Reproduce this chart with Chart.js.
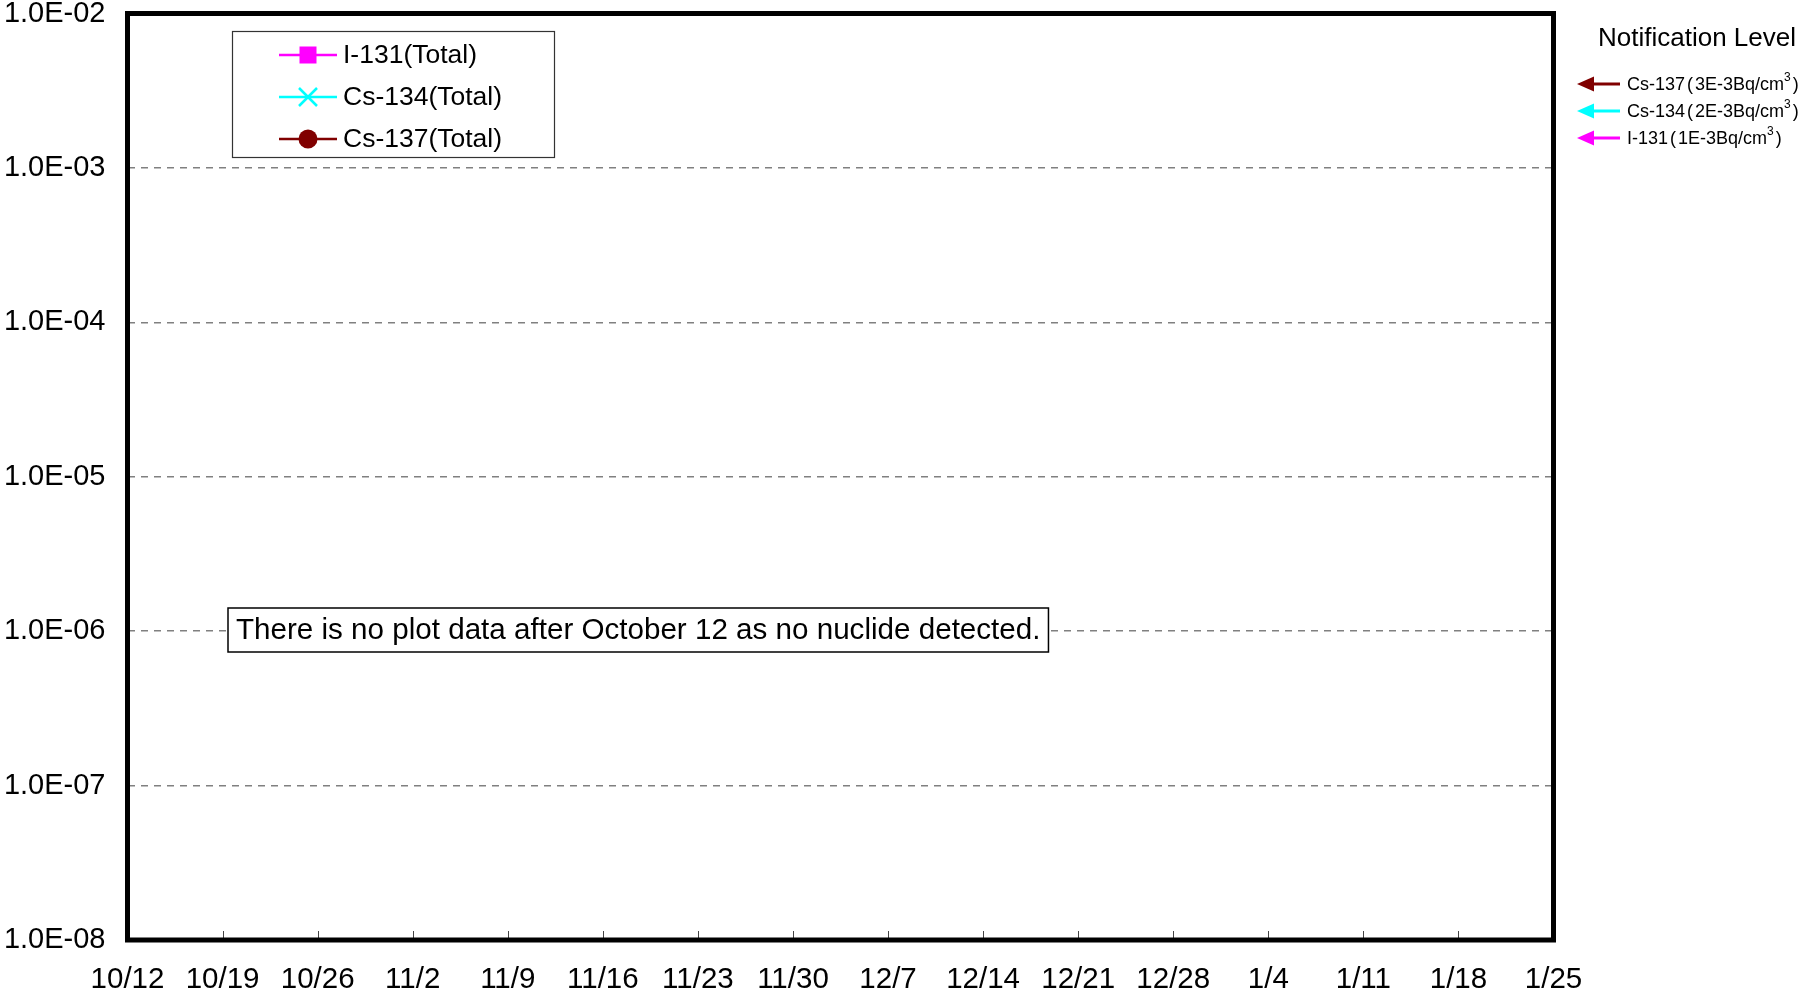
<!DOCTYPE html>
<html>
<head>
<meta charset="utf-8">
<script src="https://cdn.jsdelivr.net/npm/chart.js@4.4.1/dist/chart.umd.min.js"></script>
<style>
    html, body { margin: 0; padding: 0; background: #fff; }
    #wrap { width: 1803px; height: 994px; }
</style>
</head>
<body>
<div id="wrap"><canvas id="dustChart" width="1803" height="994"></canvas></div>
<script>
// x axis: days counted from 10/12, one tick per week
var xTickDays = [0, 7, 14, 21, 28, 35, 42, 49, 56, 63, 70, 77, 84, 91, 98, 105];
var xTickLabels = ['10/12', '10/19', '10/26', '11/2', '11/9', '11/16', '11/23', '11/30',
    '12/7', '12/14', '12/21', '12/28', '1/4', '1/11', '1/18', '1/25'];

// y axis: concentration (Bq/cm3), log decades
var yTickValues = [1e-8, 1e-7, 1e-6, 1e-5, 1e-4, 1e-3, 1e-2];
var yTickLabels = ['1.0E-08', '1.0E-07', '1.0E-06', '1.0E-05', '1.0E-04', '1.0E-03', '1.0E-02'];

// series - nothing detected after 10/12, so all empty
var seriesNames = ['I-131(Total)', 'Cs-134(Total)', 'Cs-137(Total)'];
var seriesColors = ['#ff00ff', '#00ffff', '#800000'];
var seriesMarkers = ['rect', 'crossRot', 'circle'];
var i131Values = [];
var cs134Values = [];
var cs137Values = [];

// notification levels shown at the right
var levelNames = ['Cs-137', 'Cs-134', 'I-131'];
var levelValues = ['3E-3', '2E-3', '1E-3'];
var levelColors = ['#800000', '#00ffff', '#ff00ff'];

var noteText = 'There is no plot data after October 12 as no nuclide detected.';

var FONT = "'Liberation Sans', Arial, sans-serif";

function drawMarker(ctx, style, color, x, y) {
    ctx.save();
    ctx.fillStyle = color;
    ctx.strokeStyle = color;
    if (style === 'rect') {
        ctx.fillRect(x - 8.5, y - 8.5, 17, 17);
    } else if (style === 'circle') {
        ctx.beginPath();
        ctx.arc(x, y, 9.5, 0, Math.PI * 2);
        ctx.fill();
    } else {
        ctx.lineWidth = 2.5;
        ctx.beginPath();
        ctx.moveTo(x - 9, y - 9); ctx.lineTo(x + 9, y + 9);
        ctx.moveTo(x + 9, y - 9); ctx.lineTo(x - 9, y + 9);
        ctx.stroke();
    }
    ctx.restore();
}

const decorPlugin = {
    id: 'decor',
    afterDraw(chart) {
        const ctx = chart.ctx;
        const area = chart.chartArea;
        const xScale = chart.scales.x;

        ctx.save();

        // small inner ticks on the bottom edge
        ctx.strokeStyle = '#444';
        ctx.lineWidth = 1;
        xTickDays.forEach(function (d) {
            const px = Math.round(xScale.getPixelForValue(d)) + 0.5;
            ctx.beginPath();
            ctx.moveTo(px, area.bottom - 9);
            ctx.lineTo(px, area.bottom);
            ctx.stroke();
        });

        // heavy frame
        ctx.strokeStyle = '#000';
        ctx.lineWidth = 5;
        ctx.strokeRect(area.left, area.top, area.right - area.left, area.bottom - area.top);

        // legend box
        ctx.fillStyle = '#fff';
        ctx.fillRect(232, 31, 323, 127);
        ctx.strokeStyle = '#333';
        ctx.lineWidth = 1.2;
        ctx.strokeRect(232.5, 31.5, 322, 126);
        chart.data.datasets.forEach(function (ds, i) {
            const rowY = 55 + i * 42;
            ctx.strokeStyle = ds.borderColor;
            ctx.lineWidth = 2.5;
            ctx.beginPath();
            ctx.moveTo(279, rowY);
            ctx.lineTo(337, rowY);
            ctx.stroke();
            drawMarker(ctx, ds.pointStyle, ds.borderColor, 308, rowY);
            ctx.fillStyle = '#000';
            ctx.font = '26.5px ' + FONT;
            ctx.textAlign = 'left';
            ctx.textBaseline = 'middle';
            ctx.fillText(ds.label, 343, rowY + 1);
        });

        // note box on the 1E-6 line
        ctx.font = '29.6px ' + FONT;
        const tw = ctx.measureText(noteText).width;
        const boxX = 228, boxY = 608, boxH = 44;
        ctx.fillStyle = '#fff';
        ctx.fillRect(boxX, boxY, tw + 16, boxH);
        ctx.strokeStyle = '#000';
        ctx.lineWidth = 1.5;
        ctx.strokeRect(boxX, boxY, tw + 16, boxH);
        ctx.fillStyle = '#000';
        ctx.textAlign = 'left';
        ctx.textBaseline = 'middle';
        ctx.fillText(noteText, boxX + 8, boxY + boxH / 2 + 1);

        // notification level panel
        ctx.font = '26px ' + FONT;
        ctx.textAlign = 'center';
        ctx.fillText('Notification Level', 1697, 39);
        levelNames.forEach(function (name, i) {
            const rowY = 84 + i * 27;
            ctx.strokeStyle = levelColors[i];
            ctx.fillStyle = levelColors[i];
            ctx.lineWidth = 3;
            ctx.beginPath();
            ctx.moveTo(1590, rowY);
            ctx.lineTo(1620, rowY);
            ctx.stroke();
            ctx.beginPath();
            ctx.moveTo(1577, rowY);
            ctx.lineTo(1594, rowY - 7.5);
            ctx.lineTo(1594, rowY + 7.5);
            ctx.closePath();
            ctx.fill();

            ctx.fillStyle = '#000';
            ctx.textAlign = 'left';
            ctx.textBaseline = 'middle';
            ctx.font = '18px ' + FONT;
            let x = 1627;
            ctx.fillText(name, x, rowY + 1);
            x += ctx.measureText(name).width + 2;
            ctx.fillText('(', x, rowY + 1);
            x += ctx.measureText('(').width + 2;
            const part3 = levelValues[i] + 'Bq/cm';
            ctx.fillText(part3, x, rowY + 1);
            x += ctx.measureText(part3).width;
            ctx.font = '12px ' + FONT;
            ctx.fillText('3', x, rowY - 6);
            x += ctx.measureText('3').width + 2;
            ctx.font = '18px ' + FONT;
            ctx.fillText(')', x, rowY + 1);
        });

        ctx.restore();
    }
};

const ctx = document.getElementById('dustChart').getContext('2d');
const chart = new Chart(ctx, {
    type: 'line',
    data: {
        datasets: [i131Values, cs134Values, cs137Values].map(function (vals, i) {
            return {
                label: seriesNames[i],
                data: vals,
                borderColor: seriesColors[i],
                backgroundColor: seriesColors[i],
                pointStyle: seriesMarkers[i],
                borderWidth: 2.5,
                pointRadius: 9,
                showLine: true,
            };
        }),
    },
    options: {
        responsive: false,
        animation: false,
        devicePixelRatio: 1,
        layout: { padding: { top: 13.5, right: 249.5, bottom: 0, left: 0 } },
        plugins: { legend: { display: false }, tooltip: { enabled: false } },
        scales: {
            x: {
                type: 'linear',
                min: 0,
                max: 105,
                afterBuildTicks: function (s) { s.ticks = xTickDays.map(function (d) { return { value: d }; }); },
                afterFit: function (s) { s.height = 54; s.paddingLeft = 0; s.paddingRight = 0; },
                grid: { display: false },
                border: { display: false },
                ticks: {
                    autoSkip: false,
                    maxRotation: 0,
                    color: '#000',
                    padding: 14,
                    font: { family: FONT, size: 29.5 },
                    callback: function (v) { return xTickLabels[xTickDays.indexOf(v)]; },
                },
            },
            y: {
                type: 'logarithmic',
                min: 1e-8,
                max: 1e-2,
                afterBuildTicks: function (s) { s.ticks = yTickValues.map(function (v) { return { value: v }; }); },
                afterFit: function (s) { s.width = 127.5; s.paddingTop = 0; s.paddingBottom = 0; },
                grid: { color: '#808080', lineWidth: 1.5, drawTicks: false },
                border: { display: false, dash: [7, 6] },
                ticks: {
                    color: '#000',
                    padding: 22,
                    font: { family: FONT, size: 29 },
                    callback: function (v) { return yTickLabels[yTickValues.indexOf(v)]; },
                },
            },
        },
    },
    plugins: [decorPlugin],
});
</script>
</body>
</html>
